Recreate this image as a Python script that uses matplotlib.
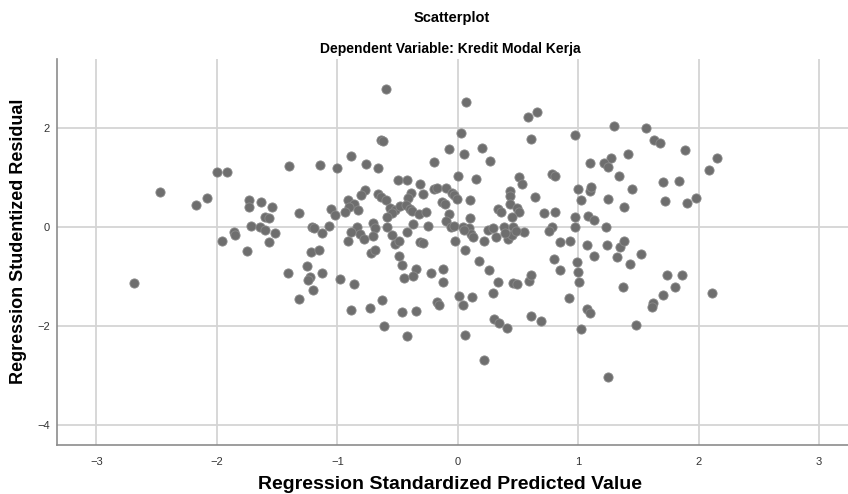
import numpy as np
import matplotlib
matplotlib.use("Agg")
import matplotlib.pyplot as plt

plt.rcParams['font.family'] = ['Liberation Sans', 'DejaVu Sans']

# standardized predicted values (x) and studentized residuals (y)
pred = [
    -2.47, -2.17, -2.08, -2.00, -1.92, -1.73, -1.73, -1.63, -1.60, -1.57,
    -1.72, -1.64, -1.60, -1.96, -1.86, -1.85, -1.75, -2.69, -1.57, -1.52,
    -0.60, -0.64, -0.62, -0.89, -1.40, -1.14, -1.00, -0.76, -0.66, -0.20,
    -0.50, -0.42, -0.31, -0.20, -0.17, -0.77, -0.80, -0.66, -0.64, -0.60,
    -0.39, -0.41, -0.29, -0.91, -0.86, -0.90, -0.83, -0.94, -1.05, -1.02,
    -1.32, -1.54, -0.56, -0.52, -0.55, -0.59, -0.48, -0.43, -0.40, -0.38,
    -0.32, -0.26, -0.37, -0.25, -0.70, -0.69, -0.59, -0.84, -1.07, -1.21,
    -1.19, -1.13, -0.81, -0.89, -0.55, -0.42,
    -1.22, -1.15, -1.25, -1.41, -1.23, -1.24, -1.13, -1.20, -1.32, -0.98,
    -0.86, -0.89, -0.73, -0.63, -0.61, -0.46, -0.35, -0.42, -0.17, -0.16,
    -0.91, -0.78, -0.70, -0.72, -0.69, -0.52, -0.49, -0.31, -0.29, -0.49,
    -0.46, -0.35, -0.45, -0.37, -0.22,
    0.07, 0.58, 0.66, 0.03, 0.97, 0.61, -0.07, 0.05, 0.20, 0.27,
    0.00, 0.15, 0.51, 0.53, 0.78, 0.81, -0.10, -0.05, -0.03, -0.01,
    -0.13, -0.11, 0.10, 0.43, 0.43, 0.64, 1.00, 1.02, 0.43, 0.33,
    0.36, 0.49, 0.51, 0.45, 0.72, 0.81, 0.97, 1.08, 1.10, 1.10,
    0.10, -0.07, -0.10, -0.06, -0.03, 0.04, 0.09, 0.25, 0.29, 0.38,
    0.46, 0.55, 0.78, 0.76, 0.97,
    -0.02, 0.11, 0.13, 0.22, 0.32, 0.42, 0.45, 0.06, 0.18, 0.26,
    0.33, 0.29, -0.12, -0.12, 0.01, 0.04, 0.12, 0.30, 0.34, 0.41,
    0.06, 0.22, 0.46, 0.49, 0.59, 0.61, 0.61, 0.69, 0.80, 0.85,
    0.93, 0.85, 0.92, 0.99, 1.00, 1.01, 1.02, 1.07, 0.39, 0.48,
    0.05,
    1.30, 1.56, 1.63, 1.68, 1.89, 2.15, 2.09, 1.41, 1.27, 1.21,
    1.25, 1.34, 1.70, 1.84, 1.45, 1.11, 1.25, 1.38, 1.72, 1.90,
    1.98, 1.13, 1.23,
    1.13, 1.24, 1.35, 1.38, 1.32, 1.43, 1.52, 1.37, 1.74, 1.86,
    1.80, 1.70, 1.62, 1.61, 2.11, 1.07, 1.10, 1.48, 1.25,
]
resid = [
    0.69, 0.43, 0.57, 1.10, 1.10, 0.54, 0.39, 0.49, 0.20, 0.18,
    0.02, 0.00, -0.07, -0.29, -0.11, -0.16, -0.50, -1.13, -0.32, -0.12,
    2.77, 1.75, 1.72, 1.43, 1.23, 1.24, 1.19, 1.27, 1.19, 1.31,
    0.94, 0.94, 0.87, 0.77, 0.78, 0.75, 0.64, 0.65, 0.59, 0.54,
    0.67, 0.57, 0.66, 0.54, 0.46, 0.40, 0.34, 0.29, 0.35, 0.23,
    0.28, 0.39, 0.38, 0.34, 0.27, 0.19, 0.42, 0.43, 0.35, 0.31,
    0.26, 0.29, 0.05, 0.01, 0.07, -0.03, -0.01, 0.00, 0.02, -0.01,
    -0.03, -0.13, -0.15, -0.11, -0.17, -0.11,
    -0.52, -0.48, -0.79, -0.94, -1.02, -1.08, -0.93, -1.28, -1.47, -1.05,
    -1.15, -1.69, -1.65, -1.49, -2.01, -1.72, -1.71, -2.21, -1.53, -1.59,
    -0.29, -0.25, -0.18, -0.53, -0.47, -0.36, -0.28, -0.32, -0.34, -0.59,
    -0.77, -0.85, -1.03, -1.00, -0.93,
    2.51, 2.21, 2.31, 1.89, 1.85, 1.78, 1.56, 1.46, 1.58, 1.33,
    1.02, 0.96, 1.00, 0.86, 1.06, 1.03, 0.78, 0.67, 0.63, 0.56,
    0.49, 0.46, 0.54, 0.71, 0.62, 0.59, 0.76, 0.54, 0.46, 0.35,
    0.30, 0.37, 0.29, 0.20, 0.27, 0.30, 0.19, 0.22, 0.71, 1.28,
    0.18, 0.25, 0.12, 0.00, 0.02, 0.00, -0.02, -0.06, -0.02, 0.00,
    0.00, -0.11, 0.00, -0.09, 0.00,
    -0.29, -0.15, -0.21, -0.30, -0.20, -0.24, -0.17, -0.48, -0.69, -0.87,
    -1.11, -1.34, -0.85, -1.11, -1.41, -1.58, -1.42, -1.86, -1.95, -2.05,
    -2.19, -2.69, -1.13, -1.16, -1.09, -0.98, -1.80, -1.91, -0.65, -0.32,
    -0.29, -0.88, -1.44, -0.71, -0.92, -1.12, -2.07, -0.37, -0.13, -0.09,
    -0.06,
    2.03, 2.00, 1.75, 1.68, 1.54, 1.39, 1.14, 1.46, 1.39, 1.29,
    1.20, 1.02, 0.90, 0.93, 0.76, 0.81, 0.56, 0.39, 0.52, 0.47,
    0.57, 0.14, -0.01,
    -0.59, -0.38, -0.42, -0.28, -0.61, -0.75, -0.55, -1.22, -0.98, -0.98,
    -1.22, -1.39, -1.54, -1.62, -1.35, -1.66, -1.74, -1.99, -3.03,
]

x_ticks = [-3, -2, -1, 0, 1, 2, 3]
y_ticks = [-4, -2, 0, 2]

fig = plt.figure(figsize=(8.48, 4.94), dpi=100)
ax = fig.add_axes([0.0669, 0.0992, 0.9331, 0.7808])

ax.scatter(pred, resid, s=44, color='#6e6e6e', edgecolors='#8a8a8a',
           linewidths=0.6, zorder=3)

ax.set_xlim(-3.33, 3.24)
ax.set_ylim(-4.41, 3.38)
ax.set_xticks(x_ticks)
ax.set_yticks(y_ticks)
ax.grid(True, color='#d4d4d4', linewidth=1.3, zorder=0)
ax.set_axisbelow(True)

for side in ['top', 'right']:
    ax.spines[side].set_visible(False)
for side in ['left', 'bottom']:
    ax.spines[side].set_color('#8c8c8c')
    ax.spines[side].set_linewidth(1.2)

ax.tick_params(axis='x', length=0, labelsize=8, colors='#333333', pad=9)
ax.tick_params(axis='y', length=0, labelsize=8, colors='#333333', pad=5)

# axis titles placed in figure coords like the SPSS output
fig.text(0.531, 0.020, 'Regression Standardized Predicted Value', ha='center',
         va='center', fontsize=14, fontweight='bold')
fig.text(0.022, 0.511, 'Regression Studentized Residual', ha='center',
         va='center', rotation=90, fontsize=13, fontweight='bold')

fig.text(0.533, 0.963, 'Scatterplot', ha='center', va='center',
         fontsize=10.5, fontweight='bold')
fig.text(0.531, 0.900, 'Dependent Variable: Kredit Modal Kerja', ha='center',
         va='center', fontsize=10, fontweight='bold')

fig.savefig('out.png', dpi=100)
